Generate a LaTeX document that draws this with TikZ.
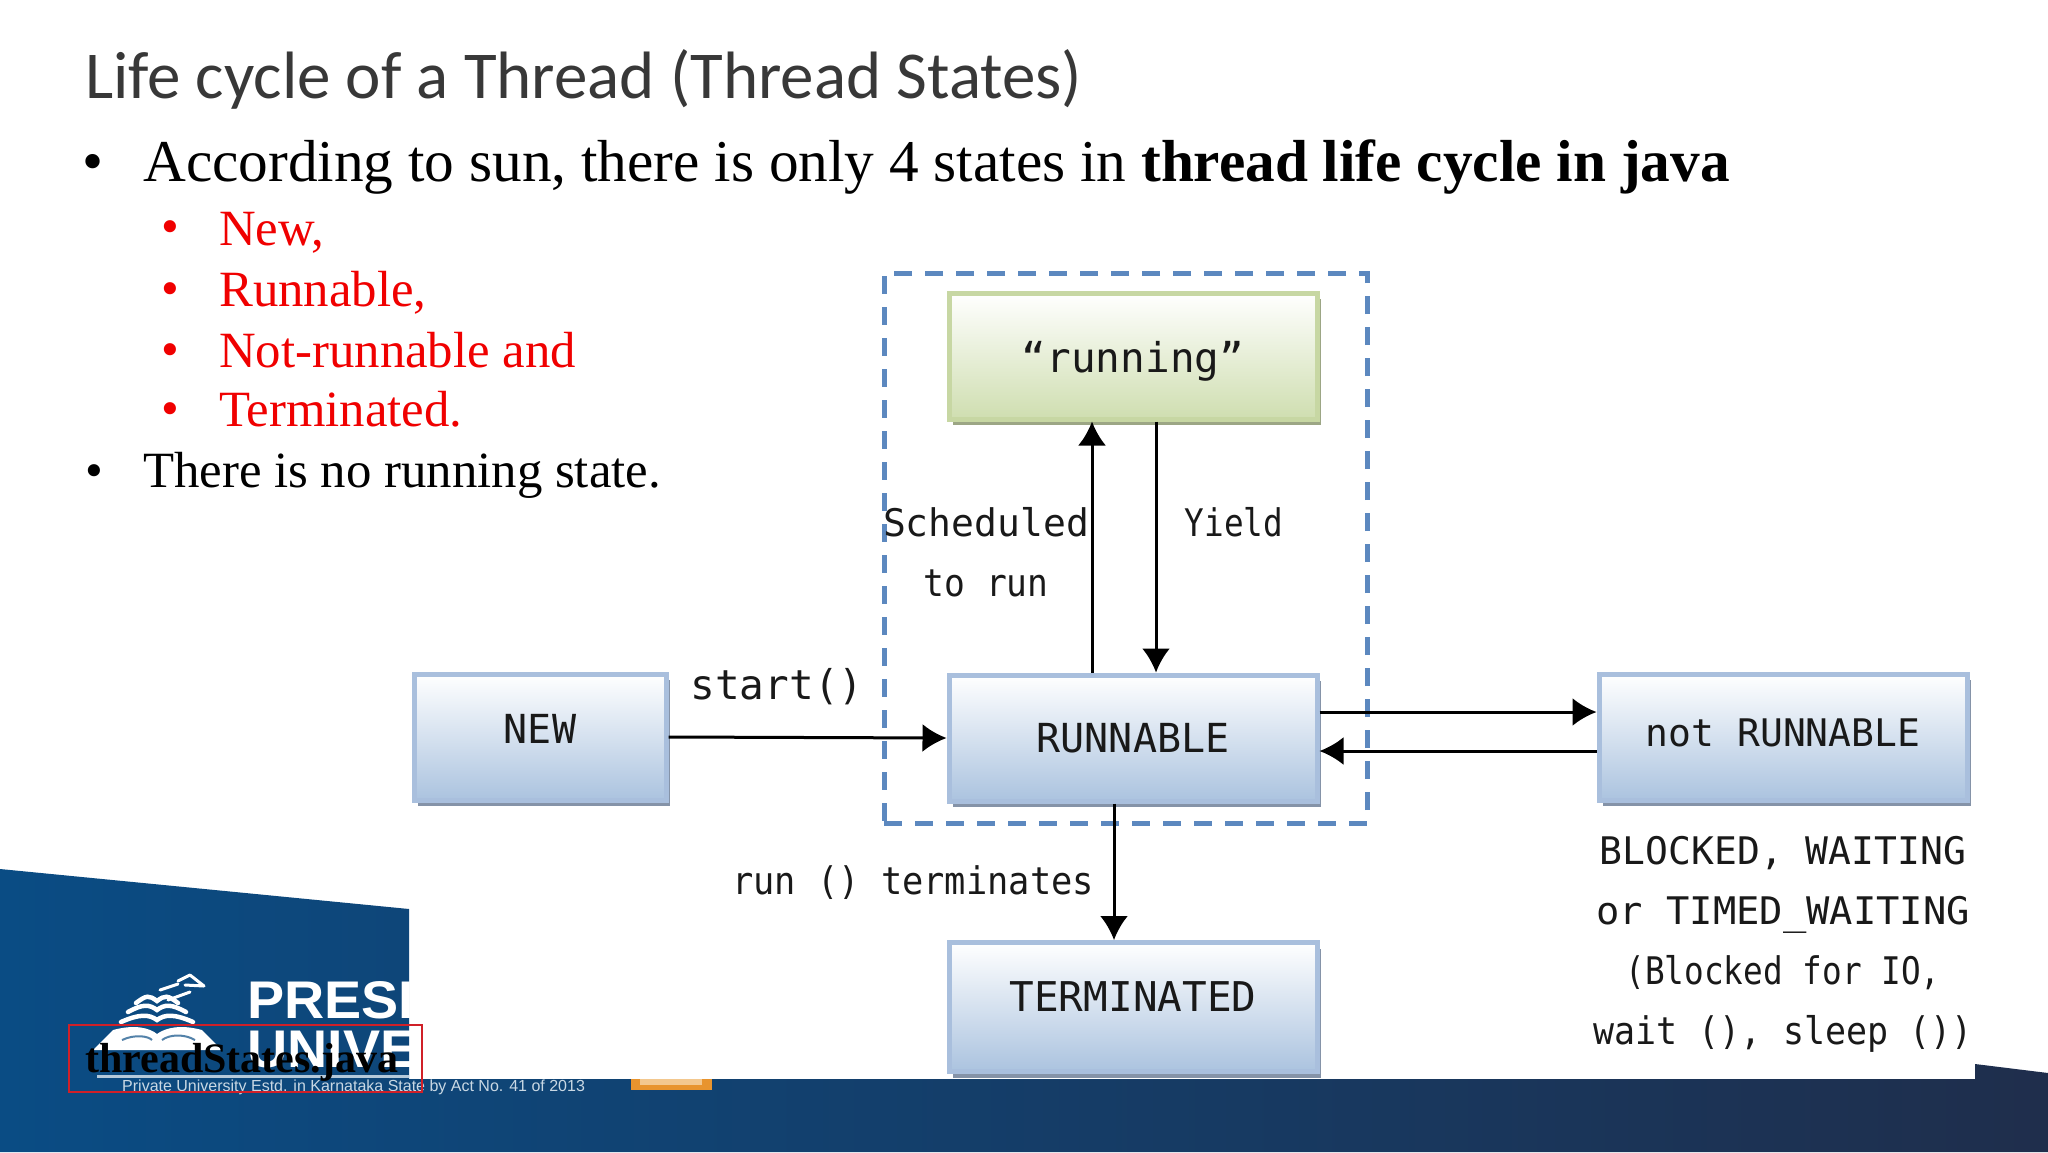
\documentclass[tikz,border=0pt]{standalone}
\usepackage{fontspec}
\setmainfont{Liberation Serif}
\newfontfamily\titlefont{Carlito}
\newfontfamily\boxfont{DejaVu Sans Mono}
\newfontfamily\logofont{Liberation Sans}
\usetikzlibrary{arrows.meta,shadows}
\definecolor{bandL}{HTML}{0A4C84}
\definecolor{bandM}{HTML}{15406F}
\definecolor{bandR}{HTML}{1F2E4C}
\definecolor{blueEdge}{HTML}{A9BFDD}
\definecolor{blueFill}{HTML}{ABC3DF}
\definecolor{blueShadow}{HTML}{8593A8}
\definecolor{greenEdge}{HTML}{C7D7A3}
\definecolor{greenFill}{HTML}{CFDEB0}
\definecolor{greenShadow}{HTML}{9CA685}
\definecolor{dashBlue}{HTML}{5C88BF}
\definecolor{slideRed}{HTML}{F00000}
\definecolor{boxRed}{HTML}{D02028}
\definecolor{logoOrange}{HTML}{E8942E}
\definecolor{logoPale}{HTML}{F3C88F}
\tikzset{
  statebox/.style={draw=blueEdge,line width=5pt,top color=white,bottom color=blueFill,
    minimum width=#1,minimum height=126pt,inner sep=0pt,
    drop shadow={shadow xshift=4pt,shadow yshift=-6pt,fill=blueShadow,opacity=1}},
  greenbox/.style={statebox=368pt,draw=greenEdge,bottom color=greenFill,
    drop shadow={shadow xshift=4pt,shadow yshift=-6pt,fill=greenShadow,opacity=1}},
  boxtext/.style={font=\boxfont\fontsize{#1}{#1}\selectfont,text=black!90},
  lbl/.style={inner sep=0pt,align=center,font=\boxfont\fontsize{38}{60}\selectfont,text=black!90},
  conn/.style={line width=3pt,draw=black,-{Latex[length=24pt,width=28pt]}},
  frame/.style={draw=dashBlue,line width=5pt,dash pattern=on 18pt off 13pt,inner sep=0pt,
    minimum width=483pt,minimum height=550pt},
  title/.style={anchor=base west,inner sep=0pt,font=\titlefont\fontsize{67}{67}\selectfont,text=black!78},
  mainitem/.style={anchor=base west,inner sep=0pt,font=\fontsize{50.8}{51}\selectfont},
  subitem/.style={anchor=base west,inner sep=0pt,text=slideRed,font=\fontsize{50.8}{51}\selectfont},
  logotext/.style={anchor=base west,inner sep=0pt,text=white,font=\logofont\bfseries\fontsize{53}{53}\selectfont},
  bookline/.style={draw=white,line width=4.5pt,line cap=round},
}
\newcommand{\xs}[2]{\scalebox{#1}[1]{#2}}
\begin{document}
\begin{tikzpicture}[x=1pt,y=-1pt]
\useasboundingbox (0,0) rectangle (2048,1152);
\fill[white] (0,0) rectangle (2048,1152);
% blue slide band
\shade[left color=bandL,middle color=bandM,right color=bandR]
  (0,869) -- (409,909) -- (409,1079) -- (1975,1079) -- (1975,1064) -- (2048,1073) -- (2048,1152) -- (0,1152) -- cycle;
% logo, cut off by the pasted picture
\begin{scope}
\clip (0,900) rectangle (409,1079);
\node[logotext] (pres) at (247,1018) {\xs{1.05}{PRESIDENCY}};
\node[logotext] (univ) at (247,1067) {\xs{1.05}{UNIVERSITY}};
\draw[line width=3pt,draw=white!70!bandL] (97,1076) -- (409,1076);
\end{scope}
% book
\fill[white] (93,1050) -- (113,1030) .. controls (135,1024) and (150,1028) .. (157,1034)
  .. controls (165,1028) and (180,1024) .. (202,1030) -- (222,1050) -- cycle;
\foreach \yy/\wd in {1016/36,1006/29,997/21}{
  \draw[bookline] (157-\wd,\yy+6) .. controls (157-\wd/2,\yy-2) and (157-8,\yy-2) .. (157,\yy+4)
     .. controls (157+8,\yy-2) and (157+\wd/2,\yy-2) .. (157+\wd,\yy+6);
}
\draw[bookline,line width=3pt] (160,990) -- (178,984) (168,1000) -- (190,992) (185,985) -- (204,986) (190,975) -- (204,986) (178,981) -- (190,975);
\draw[line width=2pt,draw=bandL!70!white] (122,1040) .. controls (135,1034) and (148,1036) .. (152,1040)
  (162,1040) .. controls (170,1034) and (185,1034) .. (195,1040);
\node[anchor=base west,inner sep=0pt,text=white!78!bandL,font=\logofont\fontsize{16}{16}\selectfont] (estd) at (122,1091)
  {Private University Estd. in Karnataka State by Act No. 41 of 2013};
\fill[logoOrange] (631,1079) rectangle (712,1090);
\fill[logoPale] (640,1079) rectangle (702,1085);
% slide text
\node[title] (ttl) at (85,98) {Life cycle of a Thread (Thread States)};
\node[anchor=base west,inner sep=0pt,font=\fontsize{59.3}{60}\selectfont] (b1) at (143,181) {According to sun, there is only 4 states in \textbf{thread life cycle in java}};
\node[anchor=base west,inner sep=0pt,font=\fontsize{60}{60}\selectfont] (dot1) at (82,181) {•};
\node[subitem] (s1) at (219,245) {New,};
\node[subitem] (s2) at (219,306) {Runnable,};
\node[subitem] (s3) at (219,367) {Not-runnable and};
\node[subitem] (s4) at (219,426) {Terminated.};
\node[subitem] (d1) at (161,243) {•};
\node[subitem] (d2) at (161,305) {•};
\node[subitem] (d3) at (161,366) {•};
\node[subitem] (d4) at (161,425) {•};
\node[mainitem] (d5) at (85,487) {•};
\node[mainitem] (b2) at (143,487) {There is no running state.};
% pasted state diagram
\node[frame] (scope) at (1125.5,548) {};
\node[greenbox,boxtext=41,text height=41pt] (running) at (1133,356) {“running”};
\node[statebox=368pt,boxtext=40] (runnable) at (1133,738) {RUNNABLE};
\node[statebox=252pt,boxtext=40,text depth=16pt] (new) at (540,737) {NEW};
\node[statebox=368pt,boxtext=38,text depth=9pt] (notrun) at (1783,737) {not RUNNABLE};
\node[statebox=368pt,boxtext=41,text depth=21pt,minimum height=129pt] (term) at (1133,1007) {TERMINATED};
\draw[conn] (new.east) -- (runnable.west);
\draw[conn] ([xshift=-41pt]runnable.north) -- ([xshift=-41pt]running.south);
\draw[conn] ([xshift=23pt]running.south) -- ([xshift=23pt]runnable.north);
\draw[conn] ([yshift=26pt]runnable.east) -- ([yshift=25pt]notrun.west);
\draw[conn] ([yshift=-14pt]notrun.west) -- ([yshift=-13pt]runnable.east);
\draw[conn] ([xshift=-19pt]runnable.south) -- ([xshift=-19pt]term.north);
\node[lbl,font=\boxfont\fontsize{41}{41}\selectfont] (lstart) at (777,687) {start()};
\node[lbl] (lsched) at (986,552) {Scheduled\\\xs{0.91}{to run}};
\node[lbl] (lyield) at (1234,522) {\xs{0.86}{Yield}};
\node[lbl] (lterm) at (913,883) {\xs{0.93}{run () terminates}};
\node[lbl] (lblock) at (1783,944) {\xs{1.0}{BLOCKED, WAITING}\\\xs{1.02}{or TIMED\_WAITING}\\\xs{0.86}{(Blocked for IO,}\\\xs{0.92}{wait (), sleep ())}};
% red frame
\node[draw=boxRed,line width=2pt,minimum width=353pt,minimum height=67pt,inner sep=0pt] (file) at (245.5,1058.5) {};
\node[anchor=base west,inner sep=0pt,font=\bfseries\fontsize{42}{42}\selectfont,text=black] (fname) at (85,1072) {threadStates.java};
\end{tikzpicture}
\end{document}
